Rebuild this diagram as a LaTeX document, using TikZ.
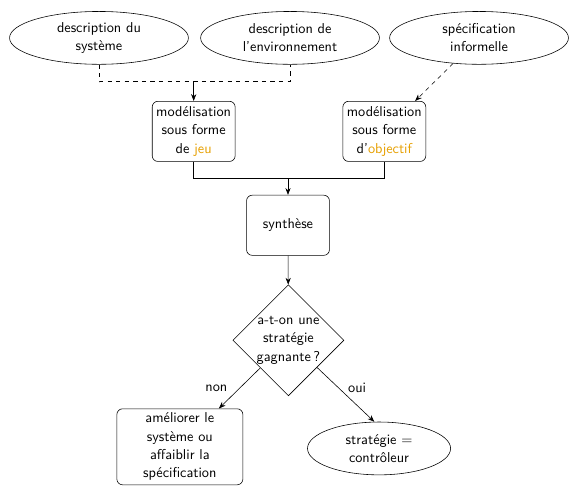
\documentclass[tikz,border=0pt]{standalone}
\usepackage{tikz}
\usetikzlibrary{shapes.geometric, arrows.meta, positioning, calc}
\definecolor{gameorange}{RGB}{230, 159, 0}

\begin{document}
\begin{tikzpicture}[
  font=\sffamily\fontsize{10}{12.8}\selectfont,
  inputell/.style={draw, ellipse, align=center, inner sep=1pt, minimum width=4.4cm, minimum height=1.3cm},
  stepbox/.style={draw, rounded corners=4pt, align=center, inner sep=2pt, minimum width=2.04cm, minimum height=1.48cm},
  flow/.style={-Stealth}
]
  \useasboundingbox (-7.085,-5.978) rectangle (6.913,6.002);

  % Inputs
  \node[inputell] (sys) at (-4.65, 5.07) {description du\\système};
  \node[inputell] (env) at (0.05, 5.07) {description de\\l'environnement};
  \node[inputell] (spec) at (4.70, 5.07) {spécification\\informelle};

  % Modelling
  \node[stepbox] (jeu) at (-2.32, 2.77) {modélisation\\sous forme\\de \textcolor{gameorange}{jeu}};
  \node[stepbox] (obj) at (2.37, 2.77) {modélisation\\sous forme\\d'\textcolor{gameorange}{objectif}};
  \coordinate (jA) at (-2.32, 3.99);
  \coordinate (jB) at (0, 1.62);

  \draw[dashed] (sys.south) |- (jA) -| (env.south);
  \draw[flow] (jA) -- (jeu);
  \draw[dashed, flow] (spec) -- (obj);

  % Synthesis and decision
  \node[stepbox] (syn) at (0, 0.46) {synthèse};
  \node[draw, diamond, aspect=1, align=center, inner sep=0pt] (dec) at (0.01, -2.37) {a-t-on une\\stratégie\\gagnante\,?};

  \draw (jeu.south) |- (jB) -| (obj.south);
  \draw[flow] (jB) -- (syn);
  \draw[flow] (syn) -- (dec);

  % Outcomes
  \node[stepbox, minimum width=3.1cm, minimum height=1.87cm] (amel) at (-2.66, -4.99) {améliorer le\\système ou\\affaiblir la\\spécification};
  \node[inputell, minimum width=3.52cm] (ctl) at (2.24, -5.03) {stratégie $=$\\contrôleur};

  \draw[flow] (dec) -- node[left=5pt] {non} (amel);
  \draw[flow] (dec) -- node[above right=0pt, inner sep=1.5pt] {oui} (ctl.100);
\end{tikzpicture}
\end{document}
